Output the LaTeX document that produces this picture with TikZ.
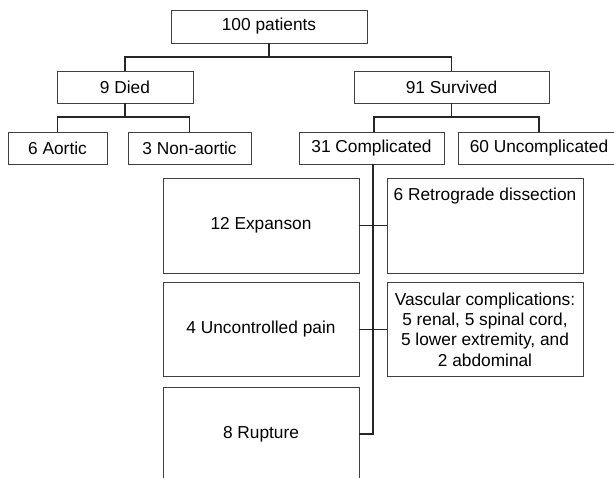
\documentclass[tikz,border=0pt]{standalone}
\usepackage{fontspec}
\setmainfont{Liberation Sans}
\newcommand{\boxfont}{\fontsize{17.3}{20.3}\selectfont}
\tikzset{box/.style={draw=black!75, line width=0.9pt, minimum height=32pt, inner sep=0pt, outer sep=0pt, font=\boxfont, align=center},
%the larger boxes under the complicated branch
bigbox/.style={box, minimum width=196pt, minimum height=95pt},
link/.style={line width=1.1pt, black!85}}

\begin{document}
\begin{tikzpicture}[x=1pt,y=-1pt]

    \useasboundingbox (0,0) rectangle (614,478);
    \clip (0,0) rectangle (614,478);

    \node[box, minimum width=196pt, minimum height=33pt] (pat) at (269,26.5) {100 patients};

    \node[box, minimum width=136pt] (died) at (125,87) {9 Died};
    \node[box, minimum width=195pt] (surv) at (451.5,87) {91 Survived};

    \node[box, minimum width=99pt] (aor) at (57.5,148) {6 Aortic};
    \node[box, minimum width=123pt] (non) at (189.5,148) {3 Non-aortic};
    \node[box, minimum width=145pt] (comp) at (371.5,148) {31 Complicated};
    \node[box, minimum width=162pt] (unc) at (539,148) {60 Uncomplicated};

    \node[bigbox] (exp) at (261,225.5) {12 Expanson};
    \node[bigbox, text height=13pt, text depth=62pt, inner ysep=10pt] (retro) at (485,225.5) {6 Retrograde dissection};
    \node[bigbox, minimum height=94pt] (pain) at (261,329.5) {4 Uncontrolled pain};
    \node[bigbox, minimum height=94pt] (vasc) at (485,329.5) {Vascular complications:\\5 renal, 5 spinal cord,\\5 lower extremity, and\\2 abdominal};
    \node[bigbox, minimum height=94pt] (rup) at (261,434) {8 Rupture};


    \draw[link] (pat.south) -- ++(0,14) coordinate (j0);
    \draw[link] (died.north) |- (j0) -| (surv.north);

    \draw[link] (died.south) -- ++(0,14) coordinate (j1);
    \draw[link] (aor.north) |- (j1) -| (non.north);

    \draw[link] (surv.south) -- ++(0,14) coordinate (j2);
    \draw[link] (comp.north -| 374,0) |- (j2) -| (unc.north);

    \draw[link] (comp.south -| 373,0) |- (rup.east);
    \draw[link] (exp.east) -- (retro.west);
    \draw[link] (pain.east) -- (vasc.west);

  \end{tikzpicture}
\end{document}
